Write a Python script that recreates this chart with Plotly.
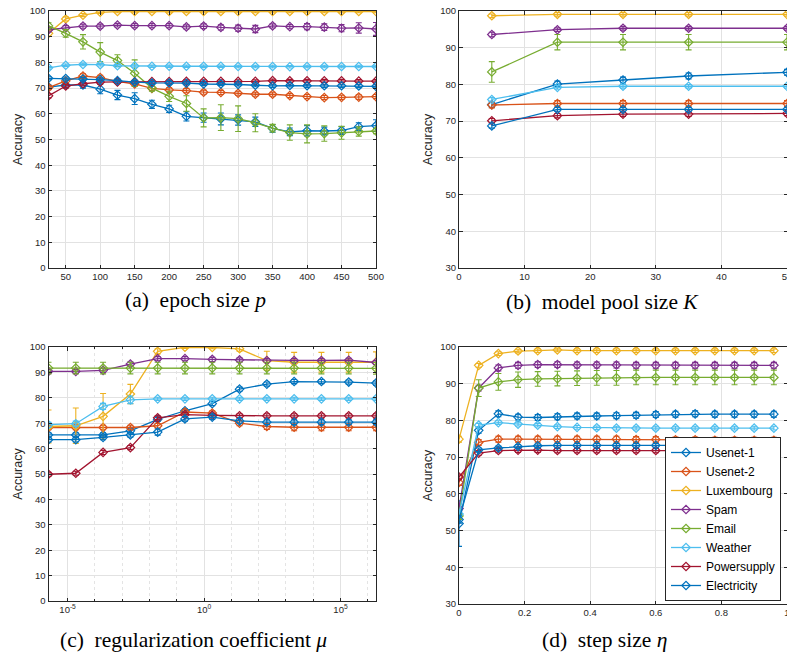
import math
import plotly.graph_objects as go

names = ["Usenet-1", "Usenet-2", "Luxembourg", "Spam", "Email", "Weather", "Powersupply", "Electricity"]
colors = ["#0072BD", "#D95319", "#EDB120", "#7E2F8E", "#77AC30", "#4DBEEE", "#A2142F", "#0072BD"]

# ---------------- (a) epoch size p ----------------
p_vals = [25, 50, 75, 100, 125, 150, 175, 200, 225, 250, 275, 300, 325, 350, 375, 400, 425, 450, 475, 500]
a_usenet1 = [70.4, 71.2, 71.2, 69.6, 67.3, 65.9, 63.7, 61.9, 59.0, 58.5, 58.0, 57.6, 56.9, 54.3, 53.0, 53.4, 53.3, 53.5, 55.0, 55.4]
a_usenet2 = [70.2, 72.8, 74.7, 74.1, 72.6, 71.6, 69.9, 69.3, 69.0, 68.4, 68.3, 68.0, 67.6, 67.6, 67.1, 66.7, 66.3, 66.4, 66.5, 66.7]
a_lux = [91.3, 96.9, 98.4, 99.5, 99.8, 99.8, 99.8, 99.8, 99.8, 99.8, 99.8, 99.8, 99.8, 99.8, 99.8, 99.8, 99.8, 99.8, 99.8, 99.8]
a_spam = [92.7, 93.5, 94.1, 94.1, 94.5, 94.3, 94.3, 94.3, 93.8, 94.1, 93.6, 93.3, 93.0, 94.2, 93.9, 93.9, 93.7, 93.3, 93.4, 93.0]
a_email = [94.2, 91.3, 88.0, 84.0, 80.7, 75.8, 70.0, 66.8, 64.0, 58.4, 58.5, 58.1, 56.5, 54.4, 52.7, 52.2, 52.3, 52.6, 53.1, 53.3]
a_weather = [77.9, 78.9, 79.2, 79.1, 78.7, 78.6, 78.5, 78.5, 78.5, 78.5, 78.5, 78.4, 78.4, 78.4, 78.3, 78.4, 78.4, 78.4, 78.4, 78.4]
a_power = [67.0, 70.8, 71.7, 72.3, 72.4, 72.4, 72.5, 72.5, 72.6, 72.6, 72.6, 72.6, 72.6, 72.9, 72.8, 72.8, 72.8, 72.8, 72.7, 72.7]
a_elec = [73.8, 73.7, 73.5, 73.3, 72.9, 72.3, 72.0, 72.0, 71.9, 71.6, 71.6, 71.4, 71.1, 70.9, 71.0, 70.9, 70.9, 70.9, 70.8, 70.7]
a_err_usenet1 = [0.8, 1.0, 1.2, 1.8, 1.8, 2.3, 1.6, 1.4, 1.8, 1.8, 2.3, 2.0, 1.8, 1.5, 1.5, 2.0, 1.5, 1.5, 1.5, 2.3]
a_err_usenet2 = [0.8, 0.8, 0.9, 0.9, 0.8, 0.8, 0.8, 0.8, 0.8, 0.8, 0.8, 0.8, 0.8, 0.8, 0.8, 0.8, 0.8, 0.8, 0.9, 0.8]
a_err_lux = [1.0, 0.8, 0.6, 0.5, 0.5, 0.5, 0.5, 0.5, 0.5, 0.5, 0.5, 0.5, 0.5, 0.5, 0.5, 0.5, 0.5, 0.5, 0.5, 0.5]
a_err_spam = [0.8, 0.8, 0.8, 0.8, 0.7, 0.8, 0.8, 0.8, 0.8, 0.9, 1.0, 1.2, 1.4, 0.8, 0.8, 1.2, 1.3, 1.4, 2.0, 2.5]
a_err_email = [1.2, 1.5, 2.8, 3.7, 2.3, 5.2, 1.2, 2.0, 3.0, 3.5, 5.0, 5.0, 3.5, 1.5, 3.0, 3.5, 3.0, 2.5, 1.8, 1.0]
a_err_weather = [0.5] * 20
a_err_power = [0.8, 0.7, 0.6, 0.6, 0.6, 0.6, 0.6, 0.6, 0.6, 0.6, 0.6, 0.6, 0.6, 0.6, 0.6, 0.6, 0.6, 0.6, 0.6, 0.6]
a_err_elec = [0.6] * 20

# ---------------- (b) model pool size K ----------------
k_vals = [5, 15, 25, 35, 50]
b_usenet1 = [74.5, 80.1, 81.2, 82.3, 83.3]
b_usenet2 = [74.4, 74.8, 74.8, 74.8, 74.8]
b_lux = [98.7, 99.1, 99.1, 99.1, 99.1]
b_spam = [93.6, 94.9, 95.3, 95.3, 95.3]
b_email = [83.4, 91.5, 91.5, 91.5, 91.5]
b_weather = [75.9, 79.2, 79.5, 79.5, 79.5]
b_power = [70.1, 71.5, 71.9, 71.9, 72.1]
b_elec = [68.7, 73.2, 73.2, 73.2, 73.2]
b_err_usenet1 = [0.8, 0.8, 0.8, 0.8, 0.8]
b_err_usenet2 = [0.8, 0.8, 0.8, 0.8, 0.8]
b_err_lux = [0.5, 0.5, 0.5, 0.5, 0.5]
b_err_spam = [0.6, 0.5, 0.5, 0.5, 0.5]
b_err_email = [2.8, 2.1, 2.1, 2.1, 2.1]
b_err_weather = [0.5, 0.5, 0.5, 0.5, 0.5]
b_err_power = [0.6, 0.6, 0.6, 0.6, 0.6]
b_err_elec = [0.6, 0.5, 0.5, 0.5, 0.5]

# ---------------- (c) regularization coefficient mu ----------------
mu_vals = [2e-6, 2e-5, 2e-4, 2e-3, 2e-2, 2e-1, 2e0, 2e1, 2e2, 2e3, 2e4, 2e5, 2e6]
c_usenet1 = [65.4, 65.4, 65.4, 67.0, 71.5, 74.9, 77.7, 83.4, 85.4, 86.4, 86.4, 86.2, 85.8]
c_usenet2 = [68.3, 68.3, 68.3, 68.3, 69.0, 74.4, 74.0, 70.0, 68.7, 68.4, 68.4, 68.4, 68.4]
c_lux = [68.7, 69.0, 72.7, 81.5, 98.3, 99.9, 99.8, 99.3, 94.6, 94.0, 94.0, 94.0, 94.0]
c_spam = [90.4, 90.4, 90.8, 93.3, 95.4, 95.4, 95.1, 94.9, 94.7, 94.7, 94.7, 94.8, 93.9]
c_email = [91.7, 91.7, 91.7, 91.7, 91.7, 91.7, 91.7, 91.7, 91.7, 91.7, 91.7, 91.7, 91.6]
c_weather = [69.4, 69.8, 76.6, 79.2, 79.6, 79.6, 79.6, 79.6, 79.6, 79.6, 79.6, 79.6, 79.6]
c_power = [49.9, 50.3, 58.5, 60.4, 72.1, 73.4, 73.1, 72.9, 72.9, 72.9, 72.9, 72.9, 72.9]
c_elec = [63.5, 63.5, 64.4, 65.4, 66.5, 71.7, 72.4, 70.9, 70.4, 70.4, 70.4, 70.4, 70.4]
c_err_usenet1 = [0.8] * 13
c_err_usenet2 = [0.9, 0.9, 0.9, 0.9, 0.9, 0.9, 0.9, 1.0, 1.2, 1.4, 1.4, 1.4, 1.4]
c_err_lux = [6.5, 7.0, 9.0, 3.8, 1.0, 0.5, 0.5, 1.0, 3.7, 3.9, 3.9, 3.9, 4.1]
c_err_spam = [0.8] * 13
c_err_email = [2.3] * 13
c_err_weather = [1.0, 1.0, 1.2, 1.5, 0.6, 0.6, 0.6, 0.6, 0.6, 0.6, 0.6, 0.6, 0.6]
c_err_power = [0.8] * 13
c_err_elec = [0.9, 0.9, 0.9, 0.9, 1.2, 0.9, 0.9, 0.9, 0.9, 0.9, 0.9, 0.9, 0.9]

# ---------------- (d) step size eta ----------------
eta_vals = [0.0, 0.06, 0.12, 0.18, 0.24, 0.30, 0.36, 0.42, 0.48, 0.54, 0.60, 0.66, 0.72, 0.78, 0.84, 0.90, 0.96]
d_usenet1 = [51.9, 77.3, 81.8, 80.9, 80.8, 81.0, 81.2, 81.2, 81.3, 81.4, 81.6, 81.7, 81.8, 81.7, 81.7, 81.7, 81.7]
d_usenet2 = [63.1, 74.0, 74.9, 74.9, 74.9, 74.9, 74.9, 74.9, 74.9, 74.8, 74.8, 74.7, 74.7, 74.6, 74.6, 74.6, 74.6]
d_lux = [74.9, 95.0, 98.2, 98.9, 99.0, 99.2, 99.0, 99.0, 99.0, 99.0, 99.0, 99.0, 99.0, 99.0, 99.0, 99.0, 99.0]
d_spam = [56.0, 88.8, 94.3, 95.0, 95.2, 95.2, 95.1, 95.1, 95.1, 95.0, 95.0, 95.0, 95.0, 95.0, 95.0, 95.0, 95.0]
d_email = [54.0, 88.8, 90.5, 91.1, 91.3, 91.4, 91.5, 91.6, 91.6, 91.7, 91.7, 91.7, 91.7, 91.7, 91.7, 91.7, 91.7]
d_weather = [54.5, 78.7, 79.4, 79.0, 78.7, 78.3, 78.1, 78.0, 77.9, 77.9, 77.9, 77.9, 77.9, 77.9, 77.9, 77.9, 77.9]
d_power = [64.6, 71.1, 71.8, 71.9, 71.9, 71.8, 71.8, 71.8, 71.8, 71.8, 71.8, 71.8, 71.8, 71.8, 71.8, 71.8, 71.8]
d_elec = [53.0, 72.0, 72.5, 72.9, 73.1, 73.2, 73.2, 73.2, 73.2, 73.2, 73.2, 73.2, 73.2, 73.2, 73.2, 73.2, 73.2]
d_err_usenet1 = [6.2] + [0.8] * 16
d_err_usenet2 = [0.8] * 17
d_err_lux = [0.8] + [0.5] * 16
d_err_spam = [1.5] + [0.8] * 16
d_err_email = [1.0, 2.3, 2.3, 2.1, 2.0, 2.0, 2.0, 2.0, 2.0, 2.0, 2.0, 2.0, 2.0, 2.0, 2.0, 2.0, 2.0]
d_err_weather = [0.5] * 17
d_err_power = [0.6] * 17
d_err_elec = [1.0] + [0.5] * 16

panels = [
    (p_vals, [a_usenet1, a_usenet2, a_lux, a_spam, a_email, a_weather, a_power, a_elec],
     [a_err_usenet1, a_err_usenet2, a_err_lux, a_err_spam, a_err_email, a_err_weather, a_err_power, a_err_elec], "x", "y"),
    (k_vals, [b_usenet1, b_usenet2, b_lux, b_spam, b_email, b_weather, b_power, b_elec],
     [b_err_usenet1, b_err_usenet2, b_err_lux, b_err_spam, b_err_email, b_err_weather, b_err_power, b_err_elec], "x2", "y2"),
    (mu_vals, [c_usenet1, c_usenet2, c_lux, c_spam, c_email, c_weather, c_power, c_elec],
     [c_err_usenet1, c_err_usenet2, c_err_lux, c_err_spam, c_err_email, c_err_weather, c_err_power, c_err_elec], "x3", "y3"),
    (eta_vals, [d_usenet1, d_usenet2, d_lux, d_spam, d_email, d_weather, d_power, d_elec],
     [d_err_usenet1, d_err_usenet2, d_err_lux, d_err_spam, d_err_email, d_err_weather, d_err_power, d_err_elec], "x4", "y4"),
]

fig = go.Figure()
for pi, (xv, series, errs, xa, ya) in enumerate(panels):
    for si in range(8):
        fig.add_trace(go.Scatter(
            x=xv, y=series[si], xaxis=xa, yaxis=ya, name=names[si],
            mode="lines+markers",
            line=dict(color=colors[si], width=1.3),
            marker=dict(symbol="diamond-open", size=6.5, color=colors[si], line=dict(width=1.2, color=colors[si])),
            error_y=dict(type="data", array=errs[si], visible=True, color=colors[si], thickness=1.1, width=3),
            showlegend=(pi == 3),
            cliponaxis=True,
        ))

W, H = 787, 655
tickfont = dict(family="Liberation Sans, Arial, sans-serif", size=9.5, color="#262626")
grid = "#e2e2e2"

def xax(domain, anchor, **kw):
    d = dict(domain=domain, anchor=anchor, showline=True, linecolor="#262626", linewidth=1,
             mirror="ticks", ticks="inside", ticklen=3.5, tickcolor="#262626", tickwidth=1,
             showgrid=True, gridcolor=grid, gridwidth=1, zeroline=False, tickfont=tickfont,
             automargin=False, ticklabeloverflow="allow")
    d.update(kw)
    return d

def yax(domain, anchor, **kw):
    d = dict(domain=domain, anchor=anchor, showline=True, linecolor="#262626", linewidth=1,
             mirror="ticks", ticks="inside", ticklen=3.5, tickcolor="#262626", tickwidth=1,
             showgrid=True, gridcolor=grid, gridwidth=1, zeroline=False, tickfont=tickfont,
             automargin=False, ticklabeloverflow="allow",
             title=dict(text="Accuracy", font=dict(family="Liberation Sans, Arial, sans-serif", size=12.5, color="#262626"), standoff=4))
    d.update(kw)
    return d

xa_dom = [48.5 / W, 376 / W]
xb_dom = [459 / W, 1.0]
ytop_dom = [1 - 268 / H, 1 - 11 / H]
yc_dom = [1 - 601 / H, 1 - 347 / H]
yd_dom = [1 - 604 / H, 1 - 347 / H]

fig.update_layout(
    width=W, height=H,
    margin=dict(l=0, r=0, t=0, b=0, autoexpand=False),
    paper_bgcolor="white", plot_bgcolor="white",
    xaxis=xax(xa_dom, "y", range=[25, 500], tickmode="array", tickvals=[50, 100, 150, 200, 250, 300, 350, 400, 450, 500]),
    yaxis=yax(ytop_dom, "x", range=[0, 100], dtick=10),
    xaxis2=xax(xb_dom, "y2", range=[0, 50], dtick=10),
    yaxis2=yax(ytop_dom, "x2", range=[30, 100], dtick=10),
    xaxis3=xax(xa_dom, "y3", type="log", range=[math.log10(2e-6), math.log10(2e6)],
               tickmode="array", tickvals=[1e-5, 1, 1e5], ticktext=["10<sup>-5</sup>", "10<sup>0</sup>", "10<sup>5</sup>"],
               minor=dict(tickmode="array", tickvals=[1e-6, 1e-4, 1e-3, 1e-2, 1e-1, 1e1, 1e2, 1e3, 1e4, 1e6],
                          showgrid=True, gridcolor="#e4e4e4", griddash="dot", ticks="inside", ticklen=2, tickcolor="#262626")),
    yaxis3=yax(yc_dom, "x3", range=[0, 100], dtick=10),
    xaxis4=xax(xb_dom, "y4", range=[0, 1], dtick=0.2),
    yaxis4=yax(yd_dom, "x4", range=[30, 100], dtick=10),
    legend=dict(x=781 / W, xanchor="right", y=1 - 601 / H, yanchor="bottom",
                bgcolor="white", bordercolor="#262626", borderwidth=1,
                font=dict(family="Liberation Sans, Arial, sans-serif", size=12, color="#000000"),
                itemwidth=30, tracegroupgap=0),
)

cap_font = dict(family="Liberation Serif, Times New Roman, serif", size=21.5, color="#000000")
captions = [
    ("(a)  epoch size <i>p</i>", 195 / W, 1 - 300 / H),
    ("(b)  model pool size <i>K</i>", 602 / W, 1 - 302 / H),
    ("(c)  regularization coefficient <i>μ</i>", 193 / W, 1 - 640 / H),
    ("(d)  step size <i>η</i>", 604 / W, 1 - 640 / H),
]
for txt, cx, cy in captions:
    fig.add_annotation(text=txt, x=cx, y=cy, xref="paper", yref="paper", showarrow=False,
                       xanchor="center", yanchor="middle", font=cap_font)

fig.write_html("out.html", config={"displayModeBar": False},
               post_script="document.body.style.margin='0';document.body.style.overflow='hidden';")
